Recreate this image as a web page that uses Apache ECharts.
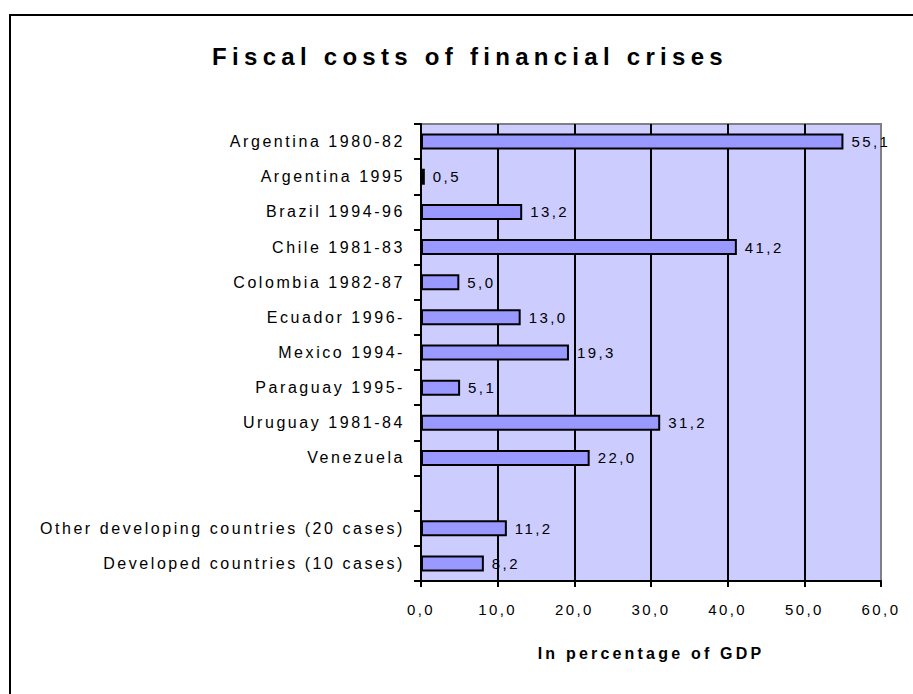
<!DOCTYPE html>
<html>
<head>
<meta charset="utf-8">
<script src="https://cdn.jsdelivr.net/npm/echarts@6/dist/echarts.min.js"></script>
<style>
  html, body { margin: 0; padding: 0; background: #fff; }
  #chart { width: 913px; height: 694px; }
  /* Spread letters out, Excel-style */
  #chart text { letter-spacing: 0.16em; }
  #chart text[style*="bold"] { letter-spacing: 0.2em; }
  #chart text[style*="24px"] { letter-spacing: 0.22em; }
</style>
</head>
<body>
<div id="chart"></div>
<script>
const titleText = 'Fiscal costs of financial crises';
const axisTitle = 'In percentage of GDP';

const categories = [
  'Argentina 1980-82',
  'Argentina 1995',
  'Brazil 1994-96',
  'Chile 1981-83',
  'Colombia 1982-87',
  'Ecuador 1996-',
  'Mexico 1994-',
  'Paraguay 1995-',
  'Uruguay 1981-84',
  'Venezuela',
  '',
  'Other developing countries (20 cases)',
  'Developed countries (10 cases)'
];

const costs = [55.1, 0.5, 13.2, 41.2, 5.0, 13.0, 19.3, 5.1, 31.2, 22.0, null, 11.2, 8.2];

const xTicks = [0, 10, 20, 30, 40, 50, 60];

const FONT = '"Liberation Sans", Arial, sans-serif';
const comma = v => Number(v).toFixed(1).replace('.', ',');

const chart = echarts.init(document.getElementById('chart'), null, { renderer: 'svg' });

chart.setOption({
  animation: false,
  graphic: [
    // frame around the chart: top and left edges
    {
      type: 'polyline',
      shape: { points: [[10, 1000], [10, 15], [1000, 15]] },
      style: { fill: 'none', stroke: '#000', lineWidth: 2 },
      silent: true
    },
    {
      type: 'text',
      style: {
        text: titleText,
        x: 470,
        y: 56,
        textAlign: 'center',
        textVerticalAlign: 'middle',
        font: 'bold 24px ' + FONT,
        fill: '#000'
      }
    }
  ],
  grid: {
    left: 421,
    right: 32,
    top: 124,
    bottom: 113,
    show: true,
    backgroundColor: '#CCCCFF',
    borderColor: '#808080',
    borderWidth: 2
  },
  xAxis: {
    type: 'value',
    min: xTicks[0],
    max: xTicks[xTicks.length - 1],
    interval: 10,
    name: axisTitle,
    nameLocation: 'middle',
    nameGap: 64,
    nameTextStyle: { fontFamily: FONT, fontSize: 16, fontWeight: 'bold', color: '#000' },
    axisLine: { show: true, lineStyle: { color: '#000', width: 2 } },
    axisTick: { show: true, length: 6, lineStyle: { color: '#000', width: 2 } },
    axisLabel: {
      margin: 21,
      fontFamily: FONT,
      fontSize: 15,
      color: '#000',
      formatter: v => comma(v)
    },
    splitLine: {
      show: true,
      lineStyle: {
        color: ['#000', '#000', '#000', '#000', '#000', '#000', '#808080'],
        width: 2
      }
    }
  },
  yAxis: {
    type: 'category',
    inverse: true,
    data: categories,
    axisLine: { show: true, lineStyle: { color: '#000', width: 2 } },
    axisTick: { show: true, length: 7, alignWithLabel: false, lineStyle: { color: '#000', width: 2 } },
    axisLabel: {
      margin: 16,
      fontFamily: FONT,
      fontSize: 16,
      color: '#000'
    },
    splitLine: { show: false }
  },
  series: [
    {
      type: 'bar',
      data: costs.map(v => (v === null ? '-' : v)),
      barWidth: 16,
      itemStyle: { color: '#9999FF', borderColor: '#000', borderWidth: 2 },
      label: {
        show: true,
        position: 'right',
        distance: 8,
        fontFamily: FONT,
        fontSize: 15,
        color: '#000',
        formatter: p => comma(p.value)
      }
    }
  ]
});
</script>
</body>
</html>
